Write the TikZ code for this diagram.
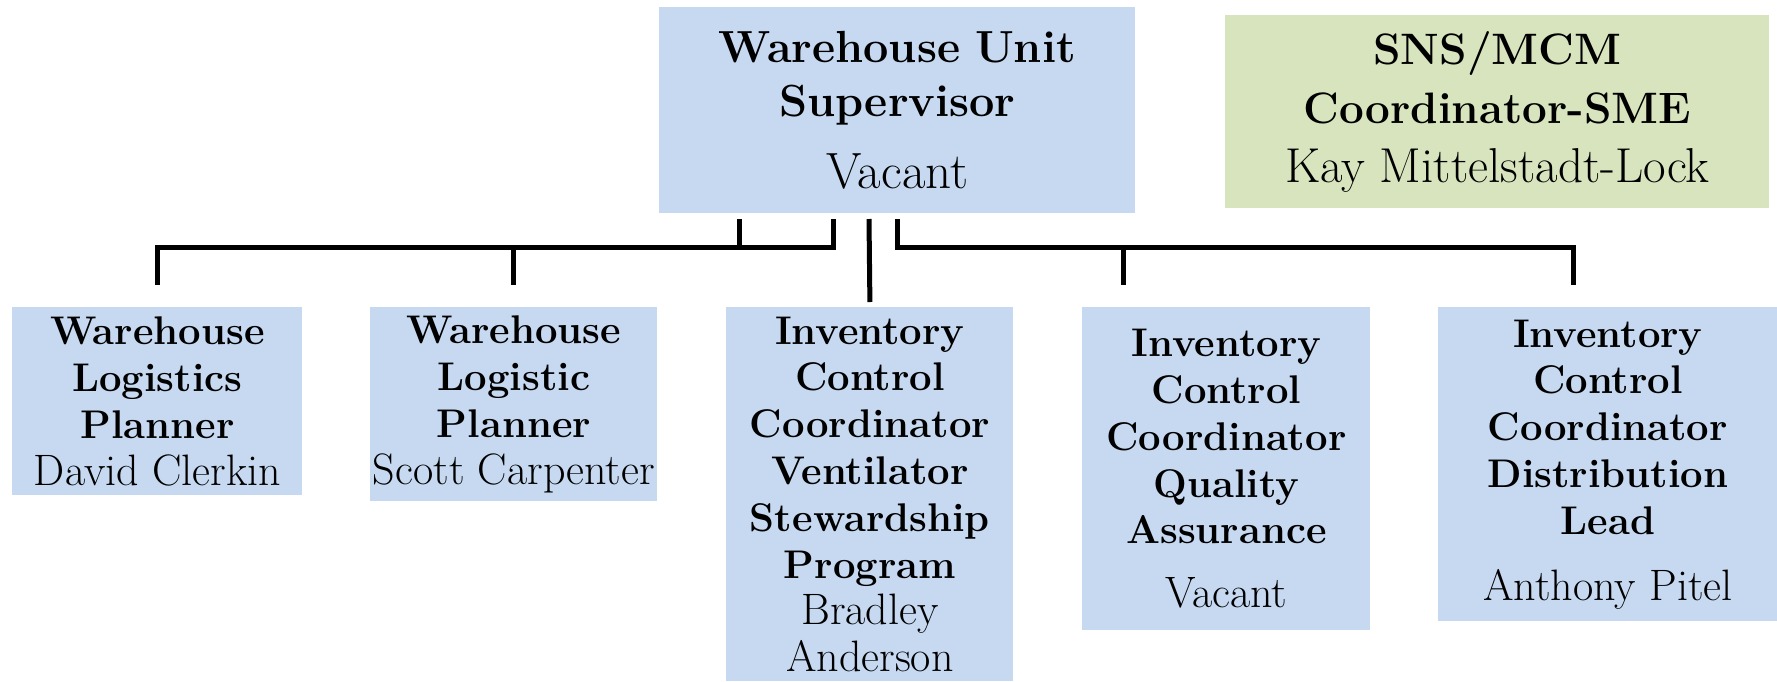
\documentclass[tikz,border=0pt]{standalone}
\usepackage{fontspec}
\usepackage{tikz}
\definecolor{boxblue}{HTML}{C6D9F1}
\definecolor{boxgreen}{HTML}{D7E4BD}
\newcommand{\who}[2][22]{{\fontsize{#1}{23.4}\selectfont #2}}
\begin{document}
\begin{tikzpicture}[x=0.5pt,y=-0.5pt,link/.style={draw=black,line width=2.5pt}]
\tikzstyle{post}=[fill=boxblue,inner sep=0pt,anchor=north west,align=center,font=\fontsize{20}{23.4}\selectfont]
\useasboundingbox (0,0) rectangle (1777,681);
\node[post,text width=238pt,minimum height=103pt,font=\fontsize{22.5}{27}\selectfont] (sup) at (659,7) {\textbf{Warehouse Unit}\\\textbf{Supervisor}\\[9pt]\who[25.5]{Vacant}};
\node[post,fill=boxgreen,text width=272pt,minimum height=96.5pt,font=\fontsize{22}{29.5}\selectfont] (sme) at (1225,15) {\textbf{SNS/MCM}\\\textbf{Coordinator-SME}\\\who[24.5]{Kay Mittelstadt-Lock}};
\node[post,text width=145pt,minimum height=94pt] (dc) at (12,307) {\textbf{Warehouse}\\\textbf{Logistics}\\\textbf{Planner}\\\who{David Clerkin}};
\node[post,text width=143.5pt,minimum height=97pt] (sc) at (370,307) {\textbf{Warehouse}\\\textbf{Logistic}\\\textbf{Planner}\\\who{Scott Carpenter}};
\node[post,text width=143.5pt,minimum height=187pt] (ba) at (726,307) {\textbf{Inventory}\\\textbf{Control}\\\textbf{Coordinator}\\\textbf{Ventilator}\\\textbf{Stewardship}\\\textbf{Program}\\\who{Bradley}\\\who{Anderson}};
\node[post,text width=144pt,minimum height=161.5pt] (qa) at (1082,307) {\textbf{Inventory}\\\textbf{Control}\\\textbf{Coordinator}\\\textbf{Quality}\\\textbf{Assurance}\\[8.5pt]\who{Vacant}};
\node[post,text width=169.5pt,minimum height=157pt] (ap) at (1438,307) {\textbf{Inventory}\\\textbf{Control}\\\textbf{Coordinator}\\\textbf{Distribution}\\\textbf{Lead}\\[9.5pt]\who{Anthony Pitel}};
\coordinate (kl) at (739,219);
\coordinate (kr) at (833,219);
\coordinate (km) at (869,219);
\coordinate (kq) at (897,219);
\coordinate (bar) at (0,247);
\coordinate (dq) at (1123,285);
\coordinate (dd) at (1573,285);
\draw[link] (kl) -- (kl |- bar);
\draw[link] (kr) |- (dc.north |- bar) -- ([yshift=11pt]dc.north);
\draw[link] (sc.north |- bar) -- ([yshift=11pt]sc.north);
\draw[link] (km) -- ([yshift=2.5pt]ba.north);
\draw[link] (kq) |- (dd |- bar) -- (dd);
\draw[link] (dq |- bar) -- (dq);
\end{tikzpicture}
\end{document}
